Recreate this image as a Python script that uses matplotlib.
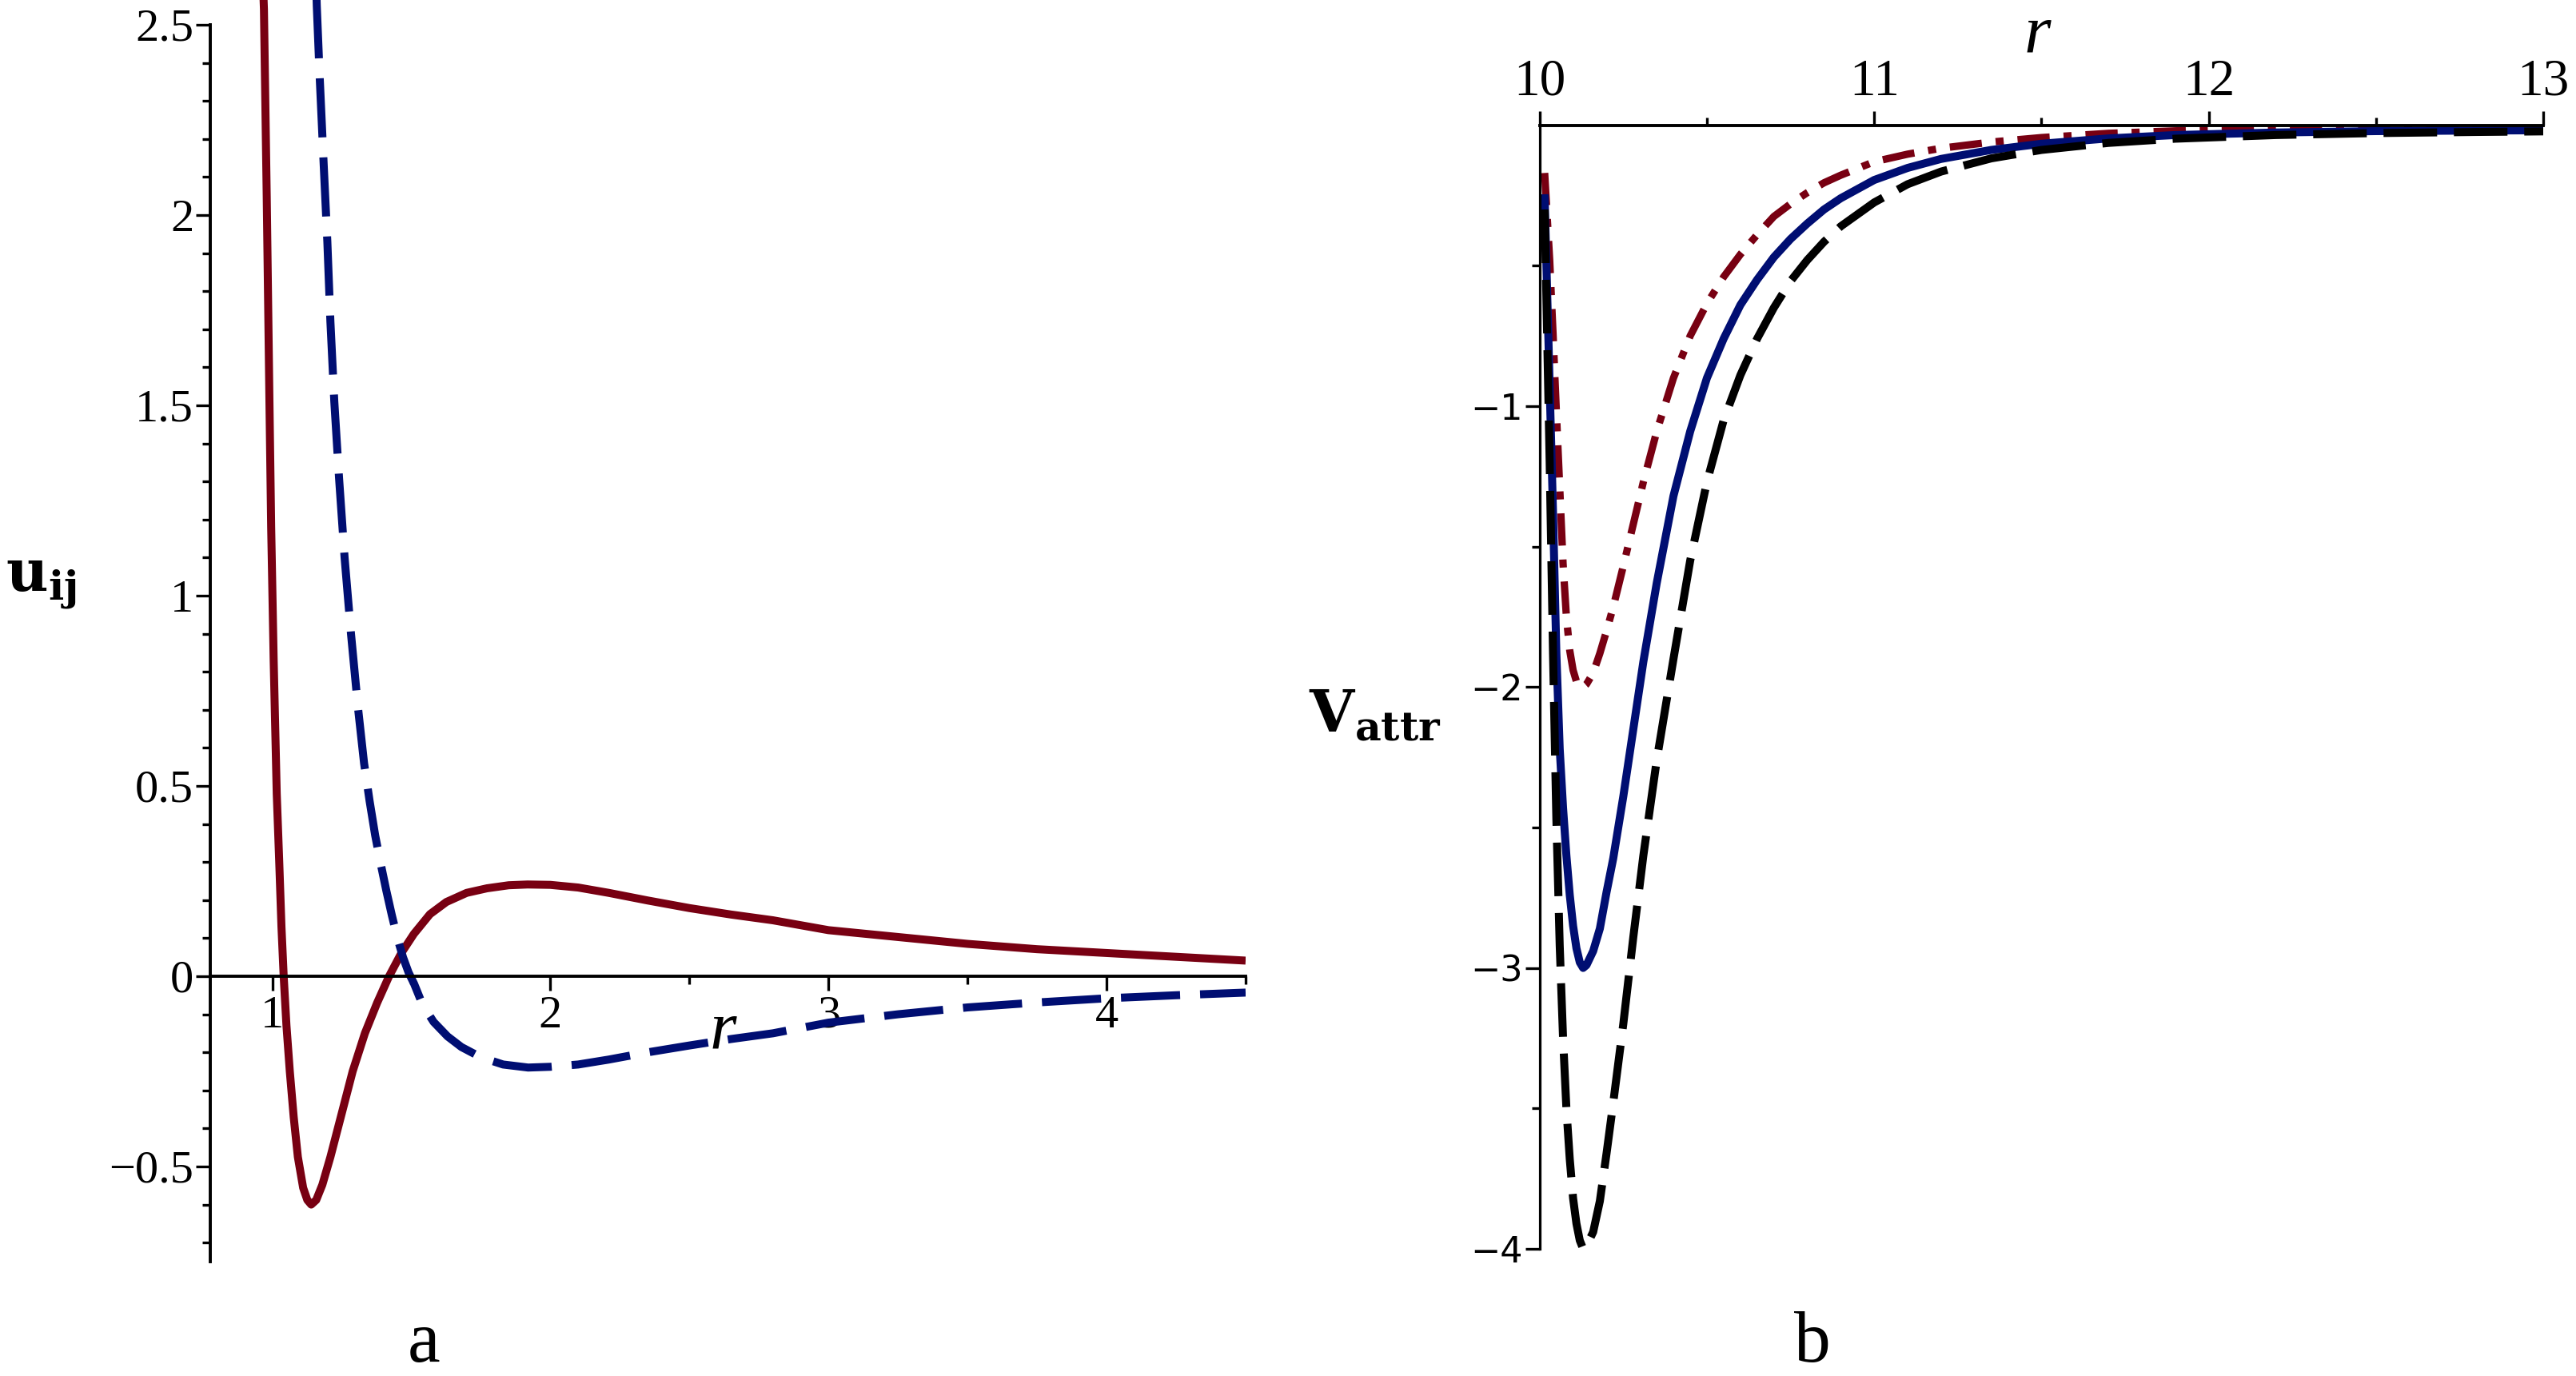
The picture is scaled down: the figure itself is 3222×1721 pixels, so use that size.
import matplotlib
matplotlib.use("agg")
import matplotlib.pyplot as plt
from matplotlib.ticker import FixedLocator

plt.rcParams["mathtext.fontset"] = "dejavuserif"

# ---- panel a : u_ij(r) ----
r_red = [0.967, 0.970, 0.980, 0.9895, 0.996, 1.005, 1.016, 1.025, 1.033, 1.041, 1.051, 1.063,
         1.077, 1.092, 1.111, 1.126, 1.140, 1.158, 1.180, 1.209, 1.246, 1.289, 1.333, 1.377,
         1.420, 1.465, 1.509, 1.567, 1.626, 1.699, 1.772, 1.85, 1.918, 2.0, 2.1, 2.21, 2.35,
         2.5, 2.65, 2.8, 3.0, 3.25, 3.5, 3.75, 4.0, 4.25, 4.5]
u_red = [2.60, 2.54, 2.05, 1.525, 1.18, 0.83, 0.48, 0.30, 0.13, 0.0, -0.13, -0.25,
         -0.37, -0.475, -0.556, -0.588, -0.600, -0.588, -0.548, -0.475, -0.371, -0.25, -0.15, -0.07,
         0.0, 0.062, 0.111, 0.163, 0.195, 0.219, 0.231, 0.239, 0.241, 0.240, 0.233, 0.219, 0.199,
         0.179, 0.162, 0.147, 0.121, 0.103, 0.085, 0.071, 0.061, 0.051, 0.041]

r_blue = [1.158, 1.160, 1.170, 1.185, 1.198, 1.209, 1.223, 1.240, 1.260, 1.283, 1.309, 1.330,
          1.350, 1.370, 1.390, 1.410, 1.430, 1.450, 1.470, 1.490, 1.510, 1.540, 1.580, 1.630,
          1.680, 1.750, 1.830, 1.920, 2.000, 2.100, 2.210, 2.350, 2.500, 2.650, 2.800, 3.000,
          3.250, 3.500, 3.750, 4.000, 4.250, 4.500]
u_blue = [2.60, 2.55, 2.37, 2.13, 1.93, 1.72, 1.51, 1.31, 1.10, 0.90, 0.70, 0.56,
          0.46, 0.37, 0.295, 0.225, 0.16, 0.10, 0.05, 0.01, -0.02, -0.074, -0.12, -0.158,
          -0.186, -0.213, -0.232, -0.240, -0.238, -0.232, -0.219, -0.200, -0.182, -0.165, -0.150, -0.122,
          -0.100, -0.082, -0.069, -0.058, -0.050, -0.043]

a_yticks = [-0.5, 0, 0.5, 1, 1.5, 2, 2.5]
a_ylabels = ["\u22120.5", "0", "0.5", "1", "1.5", "2", "2.5"]
a_xticks = [1, 2, 3, 4]
a_xlabels = ["1", "2", "3", "4"]

# ---- panel b : V_attr(r) ----
r_b = [10.015, 10.03, 10.04, 10.05, 10.06, 10.07, 10.08, 10.09, 10.10, 10.11, 10.12, 10.13,
       10.14, 10.16, 10.18, 10.20, 10.22, 10.25, 10.28, 10.31, 10.35, 10.40, 10.45, 10.50,
       10.55, 10.60, 10.65, 10.70, 10.75, 10.80, 10.85, 10.90, 11.0, 11.1, 11.2, 11.35, 11.5,
       11.7, 11.9, 12.2, 12.5, 12.8, 13.0]
v_two = [-0.17, -0.48, -0.74, -1.02, -1.29, -1.56, -1.75, -1.87, -1.94, -1.98, -2.0, -2.0,
         -1.99, -1.95, -1.88, -1.80, -1.715, -1.57, -1.42, -1.27, -1.09, -0.90, -0.75, -0.635,
         -0.54, -0.46, -0.39, -0.325, -0.28, -0.24, -0.205, -0.178, -0.13, -0.103, -0.082, -0.06, -0.044,
         -0.029, -0.020, -0.013, -0.010, -0.008, -0.007]
v_three = [-0.26, -0.93, -1.38, -1.88, -2.22, -2.43, -2.60, -2.74, -2.85, -2.93, -2.98, -3.0,
           -2.99, -2.94, -2.86, -2.73, -2.61, -2.39, -2.15, -1.91, -1.63, -1.32, -1.09, -0.90,
           -0.76, -0.64, -0.55, -0.47, -0.405, -0.35, -0.30, -0.26, -0.195, -0.152, -0.12, -0.088, -0.066,
           -0.047, -0.035, -0.026, -0.021, -0.019, -0.018]
v_four = [-0.30, -1.20, -1.88, -2.47, -2.92, -3.25, -3.50, -3.68, -3.82, -3.91, -3.97, -4.0,
          -3.99, -3.94, -3.83, -3.66, -3.48, -3.20, -2.89, -2.60, -2.26, -1.90, -1.55, -1.27,
          -1.05, -0.89, -0.76, -0.65, -0.555, -0.48, -0.415, -0.36, -0.275, -0.21, -0.165, -0.118, -0.088,
          -0.063, -0.048, -0.035, -0.028, -0.024, -0.022]

b_yticks = [-4, -3, -2, -1]
b_ylabels = ["\u22124", "\u22123", "\u22122", "\u22121"]
b_xticks = [10, 11, 12, 13]
b_xlabels = ["10", "11", "12", "13"]

RED = "#780012"
BLUE = "#000e72"
LW = 7.2

fig = plt.figure(figsize=(32.23, 17.21), dpi=100)

# panel a
axL = fig.add_axes([0.0816, 0.0831, 0.4018, 0.9169])
axL.plot(r_red, u_red, color=RED, lw=LW, solid_capstyle="butt", solid_joinstyle="round")
axL.plot(r_blue, u_blue, color=BLUE, lw=LW, dashes=(7.4, 2.5))
axL.set_xlim(0.777, 4.5)
axL.set_ylim(-0.75, 2.565)
for s in ["top", "right"]:
    axL.spines[s].set_visible(False)
axL.spines["bottom"].set_position(("data", 0))
axL.spines["left"].set_bounds(-0.75, 2.5)
for s in ["left", "bottom"]:
    axL.spines[s].set_linewidth(2.8)
axL.set_yticks(a_yticks, a_ylabels, family="Liberation Serif", fontsize=42)
axL.set_xticks(a_xticks, a_xlabels, family="Liberation Serif", fontsize=42)
axL.yaxis.set_minor_locator(FixedLocator([v / 10 for v in range(-7, 25)]))
axL.xaxis.set_minor_locator(FixedLocator([1.5, 2.5, 3.5, 4.5]))
axL.tick_params(which="major", length=13, width=2.4, direction="out")
axL.tick_params(which="minor", length=7.5, width=2.4, direction="out")
axL.tick_params(axis="y", pad=2)
axL.tick_params(axis="x", pad=4)

# panel b
axR = fig.add_axes([0.5975, 0.0924, 0.3895, 0.8166])
axR.plot(r_b, v_two, color=RED, lw=6.6, dashes=(4.4, 1.9, 1.1, 1.9), solid_joinstyle="round")
axR.plot(r_b, v_three, color=BLUE, lw=LW, solid_joinstyle="round")
axR.plot(r_b, v_four, color="black", lw=LW, dashes=(6.7, 2.1))
axR.set_xlim(10, 13)
axR.set_ylim(-4, 0)
for s in ["bottom", "right"]:
    axR.spines[s].set_visible(False)
axR.spines["top"].set_linewidth(2.8)
axR.spines["left"].set_linewidth(2.3)
axR.xaxis.tick_top()
axR.set_xticks(b_xticks, b_xlabels, family="Liberation Serif", fontsize=47)
axR.set_yticks(b_yticks, b_ylabels, family="DejaVu Sans", fontsize=32)
axR.xaxis.set_minor_locator(FixedLocator([10.5, 11.5, 12.5]))
axR.yaxis.set_minor_locator(FixedLocator([-0.5, -1.5, -2.5, -3.5]))
axR.tick_params(which="major", length=13, width=2.4, direction="out")
axR.tick_params(which="minor", length=7.5, width=2.4, direction="out")
axR.tick_params(axis="y", pad=2)
axR.tick_params(axis="x", pad=4)

# labels
fig.text(0.0158, 0.576, r"$\mathbf{u}_{\mathbf{ij}}$", fontsize=52, ha="center", va="center")
fig.text(0.5337, 0.480, r"$\mathbf{V}_{\mathbf{attr}}$", fontsize=52, ha="center", va="center")
fig.text(0.2805, 0.250, "r", family="Liberation Serif", style="italic", fontsize=62,
         ha="center", va="center")
fig.text(0.7906, 0.974, "r", family="Liberation Serif", style="italic", fontsize=62,
         ha="center", va="center")
fig.text(0.1644, 0.0232, "a", family="Liberation Serif", fontsize=66, ha="center", va="center")
fig.text(0.7034, 0.0232, "b", family="Liberation Serif", fontsize=66, ha="center", va="center")

fig.savefig("out.png", dpi=100, facecolor="white")
